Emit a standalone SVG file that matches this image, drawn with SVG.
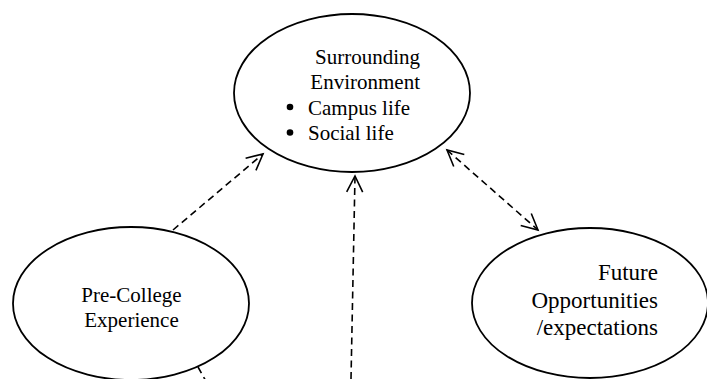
<svg xmlns="http://www.w3.org/2000/svg" width="707" height="379" viewBox="0 0 707 379">
<style>
.node{fill:#fff;stroke:#000;stroke-width:1.8}
.t{font-family:"Liberation Serif","Times New Roman",serif;fill:#000}
.conn{fill:none;stroke:#000;stroke-width:1.6;stroke-dasharray:7 4.5}
</style>
<defs>
<marker id="ah" markerUnits="userSpaceOnUse" markerWidth="20" markerHeight="20" refX="16" refY="8" orient="auto-start-reverse" overflow="visible">
<path d="M0,0 L16,8 L0,16" fill="none" stroke="#000" stroke-width="1.6" stroke-dasharray="none"/>
</marker>
</defs>
<rect width="707" height="379" fill="#fff"/>
<g id="connectors">
<line class="conn" x1="173" y1="230" x2="263" y2="154" marker-end="url(#ah)"/>
<line class="conn" x1="351" y1="379" x2="355" y2="176" marker-end="url(#ah)"/>
<line class="conn" x1="447" y1="150" x2="538" y2="230" marker-start="url(#ah)" marker-end="url(#ah)"/>
<line class="conn" x1="198" y1="367" x2="212" y2="392"/>
</g>
<g id="surrounding-environment">
<ellipse class="node" cx="352" cy="93" rx="118" ry="79"/>
<text class="t" font-size="21" x="420" y="64" text-anchor="end">Surrounding</text>
<text class="t" font-size="21" x="420" y="89" text-anchor="end">Environment</text>
<circle cx="290" cy="107" r="3.3" fill="#000"/>
<text class="t" font-size="21" x="308" y="115">Campus life</text>
<circle cx="290" cy="132.5" r="3.3" fill="#000"/>
<text class="t" font-size="21" x="308" y="140">Social life</text>
</g>
<g id="pre-college">
<ellipse class="node" cx="131" cy="303.5" rx="118" ry="76.5"/>
<text class="t" font-size="21" x="131.5" y="302" text-anchor="middle">Pre-College</text>
<text class="t" font-size="21" x="131.5" y="327" text-anchor="middle">Experience</text>
</g>
<g id="future-opportunities">
<ellipse class="node" cx="590" cy="303" rx="118" ry="75"/>
<text class="t" font-size="23" x="658" y="280" text-anchor="end">Future</text>
<text class="t" font-size="23" x="658" y="307.5" text-anchor="end">Opportunities</text>
<text class="t" font-size="23" x="658" y="335" text-anchor="end">/expectations</text>
</g>
</svg>
